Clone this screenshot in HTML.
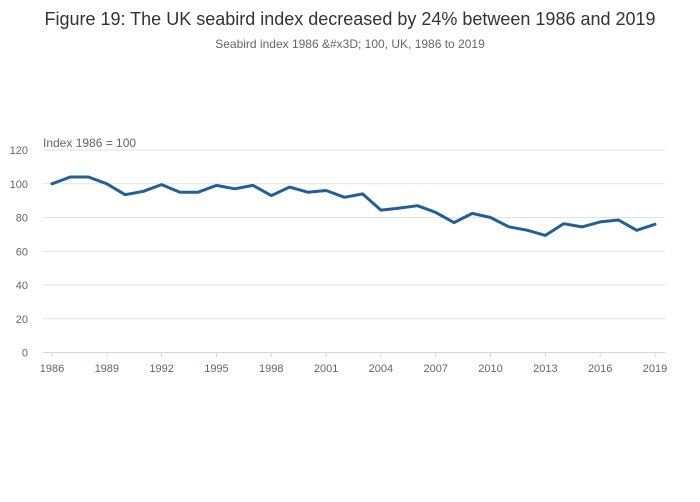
<!DOCTYPE html>
<html><head><meta charset="utf-8"><style>
html,body{margin:0;padding:0;background:#fff;width:700px;height:502px;overflow:hidden}
svg{display:block;font-family:"Liberation Sans",sans-serif}
</style></head><body>
<svg id="chart" width="700" height="502">
<text x="350" y="25" text-anchor="middle" font-size="18" fill="#333">Figure 19: The UK seabird index decreased by 24% between 1986 and 2019</text>
<text x="350" y="48" text-anchor="middle" font-size="12" fill="#666">Seabird index 1986 &amp;#x3D; 100, UK, 1986 to 2019</text>
<text x="43" y="147" font-size="12" fill="#666">Index 1986 = 100</text>
<g id="grid"></g><g id="xaxis"></g><g id="series"></g>
</svg>
<script>
const years=[1986,1987,1988,1989,1990,1991,1992,1993,1994,1995,1996,1997,1998,1999,2000,2001,2002,2003,2004,2005,2006,2007,2008,2009,2010,2011,2012,2013,2014,2015,2016,2017,2018,2019];
const values=[100,104,104,100,93.5,95.5,99.5,95,95,99,97,99,93,98,95,96,92,94,84.4,85.6,87,83,77,82.4,80,74.5,72.5,69.4,76.3,74.4,77.4,78.5,72.4,76];
const yTicks=[0,20,40,60,80,100,120];
const xTicks=[1986,1989,1992,1995,1998,2001,2004,2007,2010,2013,2016,2019];
const NS="http://www.w3.org/2000/svg";
const x=v=>52+(v-1986)*(655-52)/(2019-1986);
const y=v=>352.5-v*(352.5-150)/120;
function mk(t,a,p){const e=document.createElementNS(NS,t);for(const k in a)e.setAttribute(k,a[k]);p.appendChild(e);return e;}
const grid=document.getElementById('grid'),xa=document.getElementById('xaxis'),se=document.getElementById('series');
yTicks.forEach(t=>{
 if(t>0){const l=mk('line',{x1:43,x2:665,y1:y(t),y2:y(t),stroke:'#e2e2e2','stroke-width':1},grid);
 
 }
 const tx=mk('text',{x:28,y:y(t)+4,'text-anchor':'end','font-size':11,fill:'#666'},grid);tx.textContent=t;
 
 
});
const ax=mk('line',{x1:43,x2:665,y1:352.5,y2:352.5,stroke:'#ccd6eb','stroke-width':1},xa);


xTicks.forEach(t=>{
 mk('line',{x1:x(t),x2:x(t),y1:352.5,y2:357,stroke:'#ccd6eb','stroke-width':1},xa);
 const tx=mk('text',{x:x(t),y:372,'text-anchor':'middle','font-size':11,fill:'#666'},xa);tx.textContent=t;
 
 
});
const d=years.map((yr,i)=>(i?'L':'M')+x(yr).toFixed(1)+' '+y(values[i]).toFixed(1)).join(' ');
const p=mk('path',{d:d,fill:'none',stroke:'#206095','stroke-width':3,'stroke-linejoin':'round','stroke-linecap':'round'},se);


</script>
</body></html>
